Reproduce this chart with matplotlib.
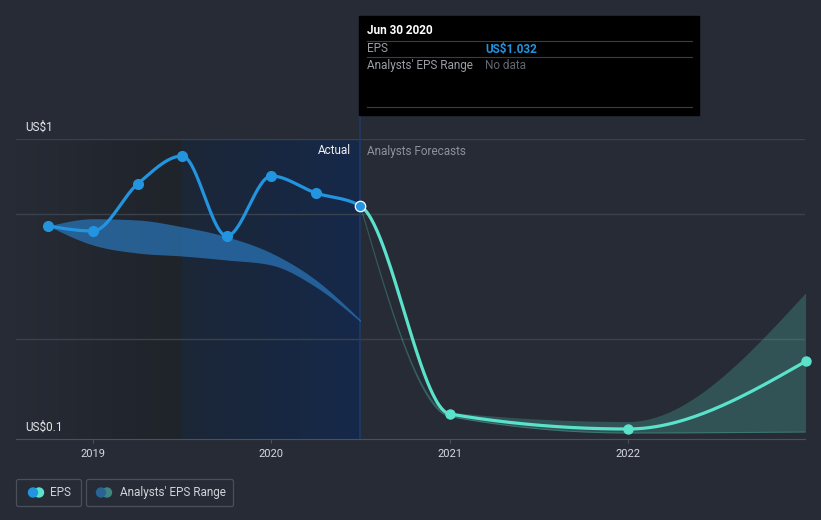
import numpy as np
import matplotlib
matplotlib.use("Agg")
import matplotlib.pyplot as plt
import matplotlib.colors as mcolors
from matplotlib.patches import Rectangle, FancyBboxPatch, Circle

plt.rcParams['font.family'] = ['Roboto', 'DejaVu Sans']

# EPS values (US$) at quarter ends, decimal years
actual_dates = [2018.75, 2019.0, 2019.25, 2019.5, 2019.75, 2020.0, 2020.25, 2020.5]
actual_eps = [0.952, 0.932, 1.12, 1.232, 0.912, 1.152, 1.084, 1.032]
forecast_dates = [2020.5, 2021.0, 2022.0, 2023.0]
forecast_eps = [1.032, 0.20, 0.14, 0.412]

# analysts' range
hist_high = [0.952, 0.981, 0.976, 0.949, 0.909, 0.844, 0.736, 0.576]
hist_low = [0.952, 0.876, 0.844, 0.832, 0.816, 0.796, 0.708, 0.569]
fc_high = [1.032, 0.208, 0.17, 0.688]
fc_low = [1.032, 0.19, 0.124, 0.128]

year_ticks = [2019, 2020, 2021, 2022]

BG = '#262b36'
BLUE = '#2394df'
TEAL = '#5be2cb'


def smooth(xs, ys, num=60):
    # monotone cubic like d3.curveMonotoneX
    x = np.asarray(xs, float)
    y = np.asarray(ys, float)
    n = len(x)
    h = np.diff(x)
    s = np.diff(y) / h
    t = np.zeros(n)
    for i in range(1, n - 1):
        p = (s[i - 1] * h[i] + s[i] * h[i - 1]) / (h[i - 1] + h[i])
        t[i] = (np.sign(s[i - 1]) + np.sign(s[i])) * min(abs(s[i - 1]), abs(s[i]), 0.5 * abs(p))
    t[0] = (3 * s[0] - t[1]) / 2
    t[-1] = (3 * s[-1] - t[-2]) / 2
    xx, yy = [], []
    for i in range(n - 1):
        u = np.linspace(0, 1, num)
        h00 = 2 * u**3 - 3 * u**2 + 1
        h10 = u**3 - 2 * u**2 + u
        h01 = -2 * u**3 + 3 * u**2
        h11 = u**3 - u**2
        xx.append(x[i] + u * h[i])
        yy.append(h00 * y[i] + h10 * h[i] * t[i] + h01 * y[i + 1] + h11 * h[i] * t[i + 1])
    return np.concatenate(xx), np.concatenate(yy)


def hgrad(ax, x0, x1, y0, y1, c0, c1):
    a = np.array(mcolors.to_rgb(c0))
    b = np.array(mcolors.to_rgb(c1))
    u = np.linspace(0, 1, 256)[:, None]
    img = (a * (1 - u) + b * u)[None, :, :]
    ax.imshow(img, extent=[x0, x1, y0, y1], aspect='auto', zorder=0, interpolation='bilinear')


W, H = 821, 520
fig = plt.figure(figsize=(W / 100, H / 100), dpi=100, facecolor=BG)

x_lo = 2019 + (16 - 93) / 178.33
x_hi = 2019 + (805 - 93) / 178.33
ax = fig.add_axes([16 / W, (H - 439) / H, (805 - 16) / W, 300 / H])
ax.set_facecolor(BG)

# shaded backgrounds
hgrad(ax, x_lo, 2019.5, 0.1, 1.3, '#262b35', '#1f232a')
hgrad(ax, 2019.5, 2020.5, 0.1, 1.3, '#1c2636', '#15294a')

for g in [0.5, 1.0, 1.3]:
    ax.axhline(g, color='#3b414c', lw=1, zorder=1)
ax.axvline(2020.5, ymin=0, ymax=1.08, color='#1f3b63', lw=1.2, zorder=2, clip_on=False)

# ranges
hx, hh = smooth(actual_dates, hist_high)
_, hl = smooth(actual_dates, hist_low)
ax.fill_between(hx, hl, hh, color='#2a78bd', alpha=0.7, lw=0, zorder=3)
fx, fh = smooth(forecast_dates, fc_high)
_, fl = smooth(forecast_dates, fc_low)
ax.fill_between(fx, fl, fh, color=TEAL, alpha=0.22, lw=0, zorder=3)
ax.plot(fx, fl, color=TEAL, alpha=0.25, lw=0.8, zorder=3)

# EPS line
all_dates = actual_dates + forecast_dates[1:]
all_eps = actual_eps + forecast_eps[1:]
ex, ey = smooth(all_dates, all_eps)
m = ex <= 2020.5
ax.plot(ex[m], ey[m], color=BLUE, lw=2.3, zorder=5, solid_capstyle='round')
m = ex >= 2020.5
ax.plot(ex[m], ey[m], color=TEAL, lw=2.3, zorder=5, solid_capstyle='round')
ax.plot(actual_dates[:-1], actual_eps[:-1], 'o', color=BLUE, ms=7, zorder=6)
ax.plot(forecast_dates[1:], forecast_eps[1:], 'o', color=TEAL, ms=6.5, zorder=6, clip_on=False)
ax.plot([actual_dates[-1]], [actual_eps[-1]], 'o', color=BLUE, ms=7.5, mec='white', mew=0.9, zorder=7)

ax.set_xlim(x_lo, x_hi)
ax.set_ylim(0.1, 1.3)
for sp in ['top', 'left', 'right']:
    ax.spines[sp].set_visible(False)
ax.spines['bottom'].set_color('#4b515c')
ax.spines['bottom'].set_zorder(8)
ax.set_yticks([])
ax.set_xticks(year_ticks)
ax.set_xticklabels([str(y) for y in year_ticks])
ax.tick_params(axis='x', colors='#4b515c', labelcolor='#d6d9de', labelsize=8, length=3, pad=4)

# overlay in pixel coordinates
ov = fig.add_axes([0, 0, 1, 1], zorder=10)
ov.set_xlim(0, W)
ov.set_ylim(H, 0)
ov.axis('off')
ov.patch.set_alpha(0)

ov.text(25, 127, 'US$1', color='#e4e6ea', fontsize=8.5, va='center', ha='left')
ov.text(25, 427, 'US$0.1', color='#e4e6ea', fontsize=8.5, va='center', ha='left')
ov.text(351, 151, 'Actual', color='#f0f0f0', fontsize=8.5, va='center', ha='right')
ov.text(367, 151, 'Analysts Forecasts', color='#8d929a', fontsize=8.5, va='center', ha='left')

# tooltip
ov.add_patch(Rectangle((359, 16), 340, 99, color='black', zorder=1))
for yl in [40.5, 57, 106.5]:
    ov.plot([367, 692], [yl, yl], color='#3a3d42', lw=0.8, zorder=2)
ov.text(367, 31, 'Jun 30 2020', color='white', fontsize=8.5, fontweight='bold', va='center', zorder=3)
ov.text(367, 49, 'EPS', color='#9a9ea5', fontsize=8.5, va='center', zorder=3)
ov.text(485, 49, 'US$1.032', color=BLUE, fontsize=8.5, fontweight='bold', va='center', zorder=3)
ov.text(367, 65.5, "Analysts' EPS Range", color='#9a9ea5', fontsize=8.5, va='center', zorder=3)
ov.text(485, 65.5, 'No data', color='#63676e', fontsize=8.5, va='center', zorder=3)

# legend
ov.add_patch(FancyBboxPatch((16.5, 479.5), 65, 27, boxstyle='round,pad=0,rounding_size=2',
                            fc='none', ec='#4a505b', lw=0.9))
ov.add_patch(FancyBboxPatch((86.5, 479.5), 147, 27, boxstyle='round,pad=0,rounding_size=2',
                            fc='none', ec='#4a505b', lw=0.9))
ov.add_patch(Circle((33, 492.5), 4.5, color=BLUE, zorder=3))
ov.add_patch(Circle((39, 492.5), 4.5, color=TEAL, zorder=2))
ov.text(50, 492.5, 'EPS', color='#d0d3d8', fontsize=8.5, va='center')
ov.add_patch(Circle((101, 492.5), 4.5, color='#2a6496', zorder=3))
ov.add_patch(Circle((107, 492.5), 4.5, color='#3f8683', zorder=2))
ov.text(120, 492.5, "Analysts' EPS Range", color='#d0d3d8', fontsize=8.5, va='center')

fig.savefig('out.png', dpi=100, facecolor=BG)
